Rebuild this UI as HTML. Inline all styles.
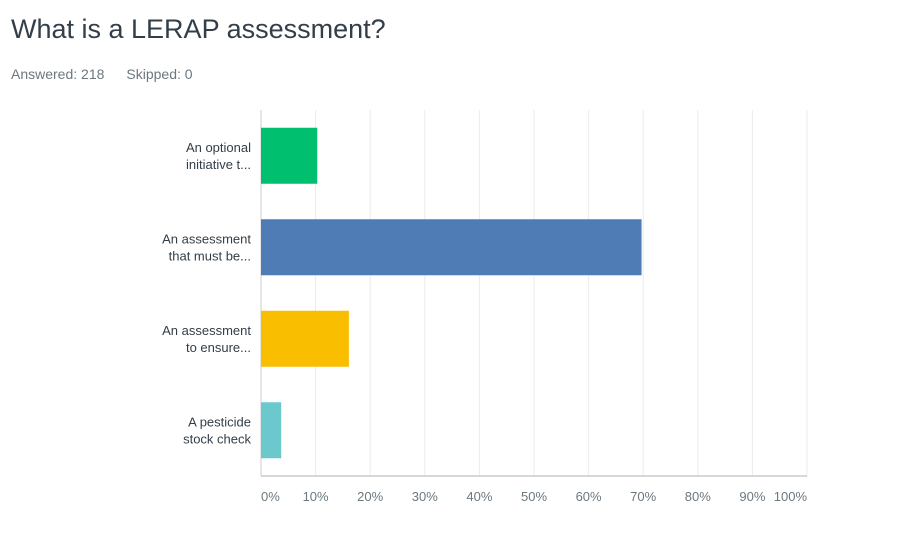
<!DOCTYPE html>
<html><head><meta charset="utf-8"><style>
body{margin:0;width:899px;height:545px;background:#fff;font-family:"Liberation Sans",sans-serif;overflow:hidden;position:relative}
#title{position:absolute;left:11px;top:14px;font-size:27px;color:#333e48;margin:0;font-weight:normal}
#meta{position:absolute;left:11px;top:66px;font-size:14px;color:#6b787f}
#meta span{margin-right:22px}
svg{position:absolute;left:0;top:0}
</style></head><body>
<h1 id="title">What is a LERAP assessment?</h1>
<div id="meta"><span>Answered: 218</span><span>Skipped: 0</span></div>
<svg id="chart" width="899" height="545"></svg>
<script>
const categories=[["An optional","initiative t..."],["An assessment","that must be..."],["An assessment","to ensure..."],["A pesticide","stock check"]];
const values=[10.3,69.7,16.1,3.7];
const colors=["#00bf6f","#507cb6","#f9be00","#6bc8cd"];
const ticks=[0,10,20,30,40,50,60,70,80,90,100];
const tickLabels=["0%","10%","20%","30%","40%","50%","60%","70%","80%","90%","100%"];
const NS="http://www.w3.org/2000/svg";
const svg=document.getElementById('chart');
const x0=261,x1=807,yTop=110,yBot=476;
const xs=v=>x0+(x1-x0)*v/100;
const band=(yBot-yTop)/categories.length;
function mk(t,a){const e=document.createElementNS(NS,t);for(const k in a)e.setAttribute(k,a[k]);svg.appendChild(e);return e;}
ticks.forEach((t,i)=>{
  const g=mk('line',{x1:xs(t),x2:xs(t),y1:yTop,y2:yBot,stroke:i===0?'#ccc':'#ebebeb','stroke-width':1});
  
  
  const anchor=i===0?'start':(i===ticks.length-1?'end':'middle');
  const tx=mk('text',{x:i===0?xs(t):(i===ticks.length-1?xs(t):xs(t)),y:501,'font-size':13,fill:'#6b787f','text-anchor':anchor,'font-family':'Liberation Sans, sans-serif'});
  tx.textContent=tickLabels[i];
  
  
});
const ax=mk('line',{x1:x0,x2:x1,y1:yBot,y2:yBot,stroke:'#ccc','stroke-width':1.5});


categories.forEach((c,i)=>{
  const cy=yTop+band*(i+0.5);
  const r=mk('rect',{x:x0,y:cy-28,width:xs(values[i])-x0,height:56,fill:colors[i]});
  
  
  c.forEach((line,j)=>{
    const t=mk('text',{x:251,y:cy-4+j*17,'font-size':13,fill:'#333e48','text-anchor':'end','font-family':'Liberation Sans, sans-serif'});
    t.textContent=line;
    
    
  });
});
</script>
</body></html>
